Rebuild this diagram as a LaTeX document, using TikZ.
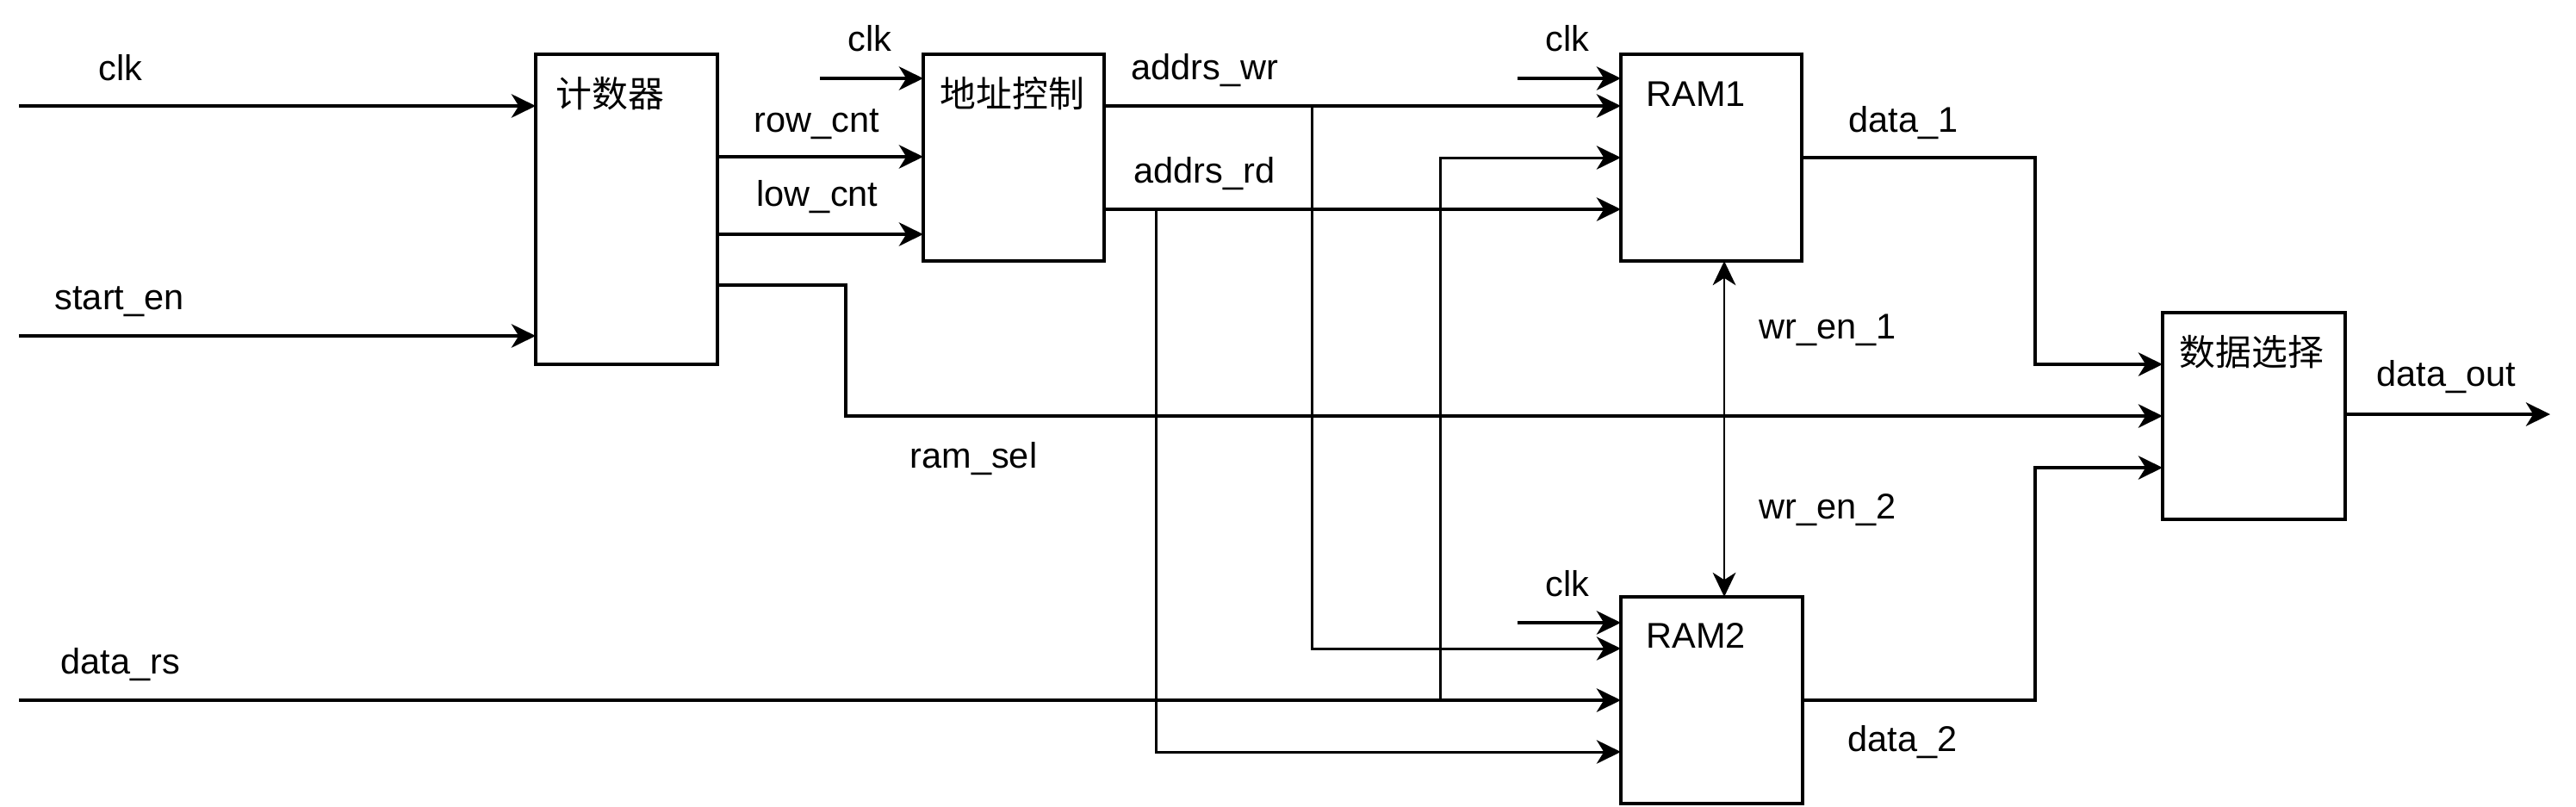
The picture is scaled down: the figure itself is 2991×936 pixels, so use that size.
\documentclass[tikz,border=0pt]{standalone}
\usepackage{fontspec}
\setmainfont{Liberation Sans}
\newfontfamily\cjk{Noto Sans CJK SC}
\usetikzlibrary{arrows.meta}
\begin{document}
\begin{tikzpicture}[x=0.01cm,y=-0.01cm,
  blk/.style={draw,line width=0.95pt,inner sep=0pt,outer sep=0pt},
  lbl/.style={anchor=base west,inner sep=0pt,font=\fontsize{11.8pt}{14pt}\selectfont},
  clbl/.style={anchor=base west,inner sep=0pt,font=\fontsize{11.9pt}{14pt}\selectfont\cjk},
  arr/.style={line width=1pt,-{Stealth[length=8pt,width=7.8pt,inset=2.4pt]}},
  thinarr/.style={line width=0.85pt,-{Stealth[length=8pt,width=7.8pt,inset=2.4pt]}},
  dblarr/.style={line width=0.7pt,{Stealth[length=8pt,width=7.6pt,inset=2.4pt]}-{Stealth[length=8pt,width=7.6pt,inset=2.4pt]}}]
\useasboundingbox (0,0) rectangle (2991,936);

% blocks
\node[blk,minimum width=2.11cm,minimum height=3.6cm] (cnt) at (727.5,243) {};
\node[blk,minimum width=2.10cm,minimum height=2.4cm] (addr) at (1177,183) {};
\node[blk,minimum width=2.10cm,minimum height=2.4cm] (ram1) at (1987,183) {};
\node[blk,minimum width=2.11cm,minimum height=2.4cm] (ram2) at (1987.5,813) {};
\node[blk,minimum width=2.12cm,minimum height=2.4cm] (mux) at (2617,483) {};

% helper levels and free ends
\foreach \yy in {91,123,182,183,243,272,331,390,423,481,483,543,723,753,813,873}
  {\coordinate (y\yy) at (0,\yy);}
\coordinate (inclk) at (22,123);
\coordinate (instart) at (22,390);
\coordinate (indrs) at (22,813);
\coordinate (clkA) at (952,91);
\coordinate (clkB) at (1762,91);
\coordinate (clkC) at (1762,723);
\coordinate (bwr) at (1523,123);
\coordinate (brd) at (1342,243);
\coordinate (bds) at (1672,813);
\coordinate (sel) at (982,331);
\coordinate (d1) at (2363,183);
\coordinate (d2) at (2363,813);
\coordinate (wx) at (2002,0);
\coordinate (out) at (2961,481);

% labels
\node[lbl] (tclk1) at (114,93) {clk};
\node[lbl] (tstart) at (63,359) {start\_en};
\node[clbl] (tcnt) at (645,124) {计数器};
\node[lbl] (trow) at (875,153) {row\_cnt};
\node[lbl] (tlow) at (878,239) {low\_cnt};
\node[lbl] (tclk2) at (984,59) {clk};
\node[clbl] (taddr) at (1091,124) {地址控制};
\node[lbl] (twr) at (1313,92) {addrs\_wr};
\node[lbl] (trd) at (1316,212) {addrs\_rd};
\node[lbl] (tclk3) at (1794,59) {clk};
\node[lbl] (tram1) at (1911,123) {RAM1};
\node[lbl] (td1) at (2146,153) {data\_1};
\node[lbl] (twe1) at (2042,393) {wr\_en\_1};
\node[lbl] (twe2) at (2042,602) {wr\_en\_2};
\node[clbl] (tmux) at (2530,424) {数据选择};
\node[lbl] (tout) at (2759,448) {data\_out};
\node[lbl] (tsel) at (1056,543) {ram\_sel};
\node[lbl] (tdrs) at (70,782) {data\_rs};
\node[lbl] (tclk4) at (1794,692) {clk};
\node[lbl] (tram2) at (1911,752) {RAM2};
\node[lbl] (td2) at (2145,872) {data\_2};

% connectors
\draw[arr] (inclk) -- (cnt.west |- inclk);
\draw[arr] (instart) -- (cnt.west |- instart);
\draw[arr] (cnt.east |- y182) -- (addr.west |- y182);
\draw[arr] (cnt.east |- y272) -- (addr.west |- y272);
\draw[arr] (clkA) -- (addr.west |- clkA);
\draw[arr] (addr.east |- y123) -- (ram1.west |- y123);
\draw[arr] (addr.east |- y243) -- (ram1.west |- y243);
\draw[arr] (clkB) -- (ram1.west |- clkB);
\draw[arr] (clkC) -- (ram2.west |- clkC);
\draw[arr] (indrs) -- (ram2.west |- indrs);
\draw[thinarr] (bwr) |- (ram2.west |- y753);
\draw[thinarr] (brd) |- (ram2.west |- y873);
\draw[thinarr] (bds) |- (ram1.west |- y183);
\draw[dblarr] (ram1.south -| wx) -- (ram2.north -| wx);
\draw[arr] (ram1.east |- d1) -- (d1) |- (mux.west |- y423);
\draw[arr] (ram2.east |- d2) -- (d2) |- (mux.west |- y543);
\draw[arr] (cnt.east |- sel) -- (sel) |- (mux.west |- y483);
\draw[arr] (mux.east |- out) -- (out);
\end{tikzpicture}
\end{document}
